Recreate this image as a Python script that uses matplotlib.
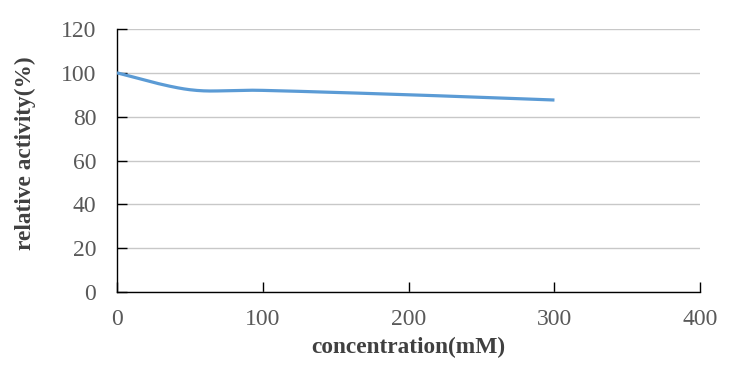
import numpy as np
import matplotlib
matplotlib.use("Agg")
import matplotlib.pyplot as plt

# Data
concentration = [0, 50, 100, 200, 300]
activity = [100, 92.3, 92.0, 90.0, 87.6]
x_ticks = [0, 100, 200, 300, 400]
y_ticks = [0, 20, 40, 60, 80, 100, 120]


def smooth(x, y, n=40, tension=0.5):
    # Bezier smoothing similar to Excel smoothed lines
    x = np.asarray(x, float)
    y = np.asarray(y, float)
    px = np.concatenate([[x[0]], x, [x[-1]]])
    py = np.concatenate([[y[0]], y, [y[-1]]])
    xs, ys = [], []
    for i in range(1, len(px) - 2):
        p0 = np.array([px[i - 1], py[i - 1]])
        p1 = np.array([px[i], py[i]])
        p2 = np.array([px[i + 1], py[i + 1]])
        p3 = np.array([px[i + 2], py[i + 2]])
        c1 = p1 + (p2 - p0) * tension / 3
        c2 = p2 - (p3 - p1) * tension / 3
        t = np.linspace(0, 1, n)[:, None]
        pts = ((1 - t) ** 3) * p1 + 3 * ((1 - t) ** 2) * t * c1 + 3 * (1 - t) * t ** 2 * c2 + t ** 3 * p2
        xs.extend(pts[:, 0])
        ys.extend(pts[:, 1])
    return np.array(xs), np.array(ys)


plt.rcParams['font.family'] = ['Liberation Serif', 'DejaVu Serif']

fig = plt.figure(figsize=(7.31, 3.65), dpi=100)
ax = fig.add_axes([0.160, 0.200, 0.798, 0.7205])

sx, sy = smooth(concentration, activity)
ax.plot(sx, sy, color='#5b9bd5', lw=2.3, solid_capstyle='butt', zorder=3)

ax.set_xlim(0, 400)
ax.set_ylim(0, 120)
ax.set_xticks(x_ticks)
ax.set_yticks(y_ticks)
ax.yaxis.grid(True, color='#c8c8c8', lw=1.0)
ax.set_axisbelow(True)

for s in ['top', 'right']:
    ax.spines[s].set_visible(False)
for s in ['left', 'bottom']:
    ax.spines[s].set_color('#000000')
    ax.spines[s].set_linewidth(1.0)

ax.tick_params(axis='both', direction='in', colors='#000000', labelcolor='#595959',
               labelsize=17, length=7.5, width=1.0)
ax.tick_params(axis='y', pad=15)
ax.tick_params(axis='x', pad=12)

ax.set_xlabel('concentration(mM)', fontsize=16.8, fontweight='bold', color='#404040', labelpad=5)
ax.set_ylabel('relative activity(%)', fontsize=16.8, fontweight='bold', color='#404040',
              va='center', ha='center')
ax.yaxis.set_label_coords(-0.157, 0.528)

fig.savefig('out.png', dpi=100)
